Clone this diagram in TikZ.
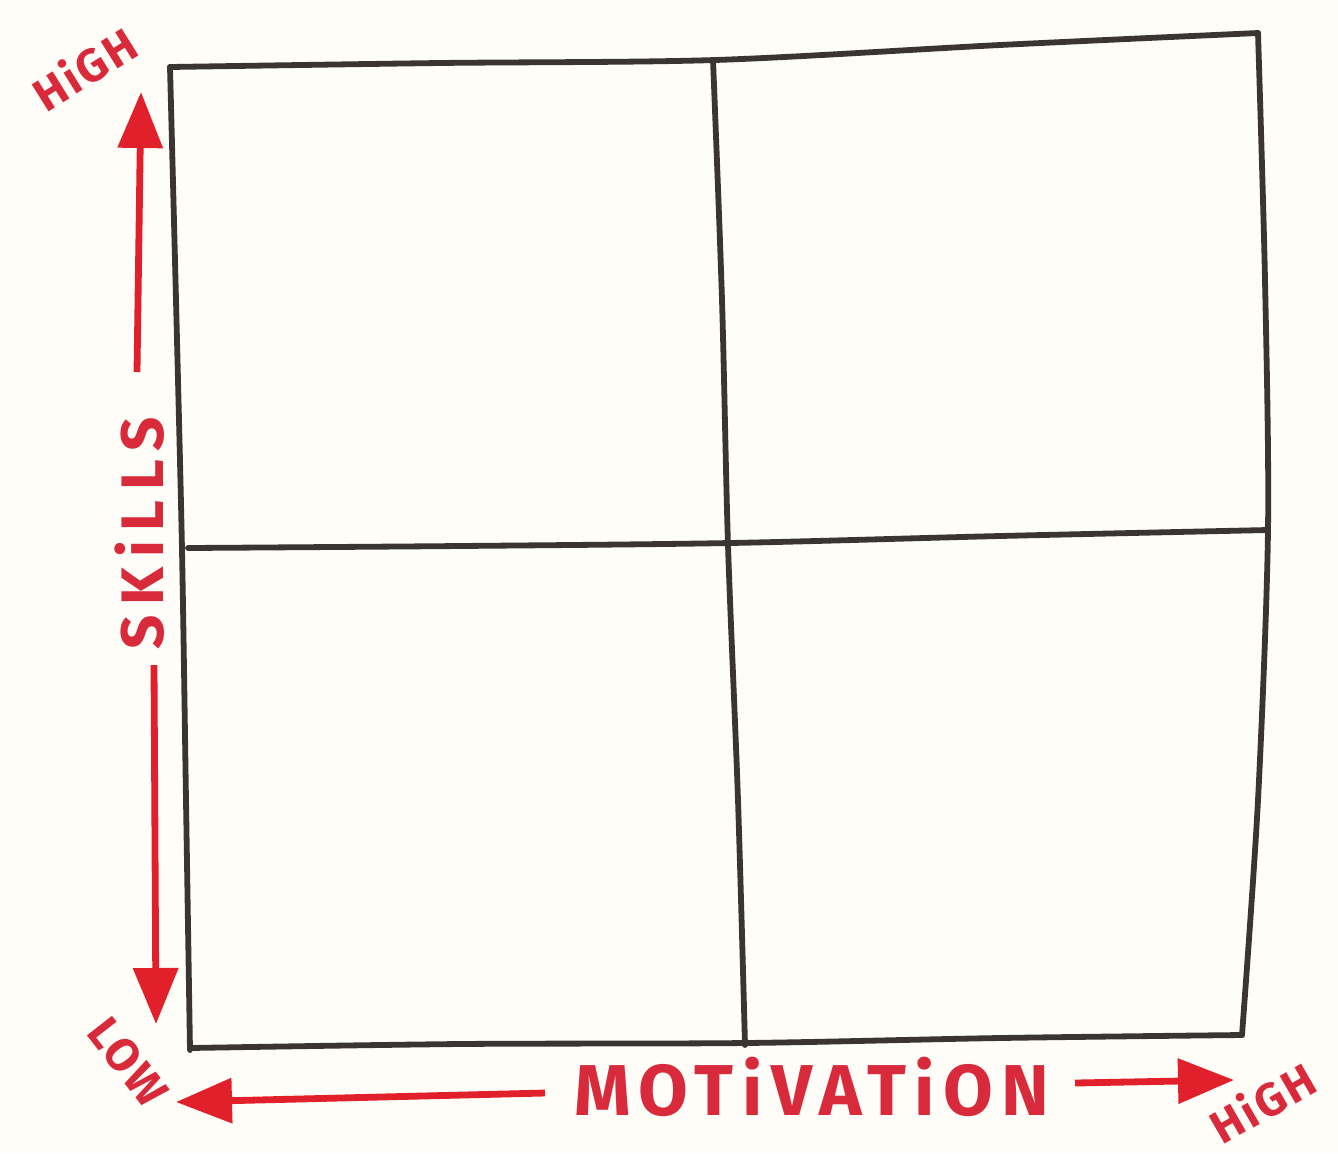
\documentclass[tikz,border=0pt]{standalone}
\usepackage{fontspec}
\setmainfont{Fira Sans}
\usetikzlibrary{arrows.meta}
\definecolor{paper}{HTML}{FEFDF7}
\definecolor{ink}{HTML}{3A3432}
\definecolor{redpen}{HTML}{E2202C}
\definecolor{redtext}{HTML}{D92A3C}
\tikzset{
  gridline/.style={draw=ink,line width=2.9pt,line cap=round,line join=round},
  redarrow/.style={draw=redpen,line width=3.4pt,-{Triangle[length=28pt,width=22pt]}},
  lbl/.style={text=redtext,inner sep=0pt},
}
\begin{document}
\begin{tikzpicture}[x=0.5pt,y=-0.5pt]
\fill[paper] (0,0) rectangle (1338,1153);
\useasboundingbox (0,0) rectangle (1338,1153);
% outer box
\draw[gridline] plot[smooth,tension=0.5] coordinates {(170,67) (440,63) (715,60) (1000,45) (1258,33)};
\draw[gridline] plot[smooth,tension=0.5] coordinates {(170,67) (176,300) (182,550) (186,800) (190,1050)};
\draw[gridline] plot[smooth,tension=0.5] coordinates {(1258,33) (1265,280) (1268,530) (1258,800) (1242,1035)};
\draw[gridline] plot[smooth,tension=0.5] coordinates {(190,1048) (460,1044) (745,1043) (1000,1038) (1242,1035)};
% dividers
\draw[gridline] plot[smooth,tension=0.5] coordinates {(713,60) (722,300) (728,545) (738,800) (745,1045)};
\draw[gridline] plot[smooth,tension=0.5] coordinates {(188,548) (460,546) (730,543) (1000,536) (1268,530)};
% axis labels
\node[lbl,rotate=90,font=\fontsize{30}{30}\selectfont\bfseries\addfontfeatures{LetterSpace=16}] (skills) at (140,533) {SKiLLS};
\node[lbl,font=\fontsize{36}{36}\selectfont\bfseries\addfontfeatures{LetterSpace=12}] (motiv) at (812,1087) {MOTiVATiON};
\node[lbl,rotate=32,font=\fontsize{23}{23}\selectfont\bfseries\addfontfeatures{LetterSpace=6}] (hightop) at (84,68) {HiGH};
\node[lbl,rotate=-52,font=\fontsize{23}{23}\selectfont\bfseries\addfontfeatures{LetterSpace=6}] (low) at (128,1062) {LOW};
\node[lbl,rotate=30,font=\fontsize{23}{23}\selectfont\bfseries\addfontfeatures{LetterSpace=6}] (highbot) at (1262,1102) {HiGH};
% arrows
\coordinate (upS) at (137,372);
\coordinate (upE) at (141,92);
\coordinate (dnS) at (154,665);
\coordinate (dnE) at (156,1024);
\coordinate (lfS) at (545,1093);
\coordinate (lfE) at (176,1102);
\coordinate (rtS) at (1075,1083);
\coordinate (rtE) at (1234,1080);
\draw[redarrow] (upS) -- (upE);
\draw[redarrow] (dnS) -- (dnE);
\draw[redarrow] (lfS) -- (lfE);
\draw[redarrow] (rtS) -- (rtE);
\end{tikzpicture}
\end{document}
